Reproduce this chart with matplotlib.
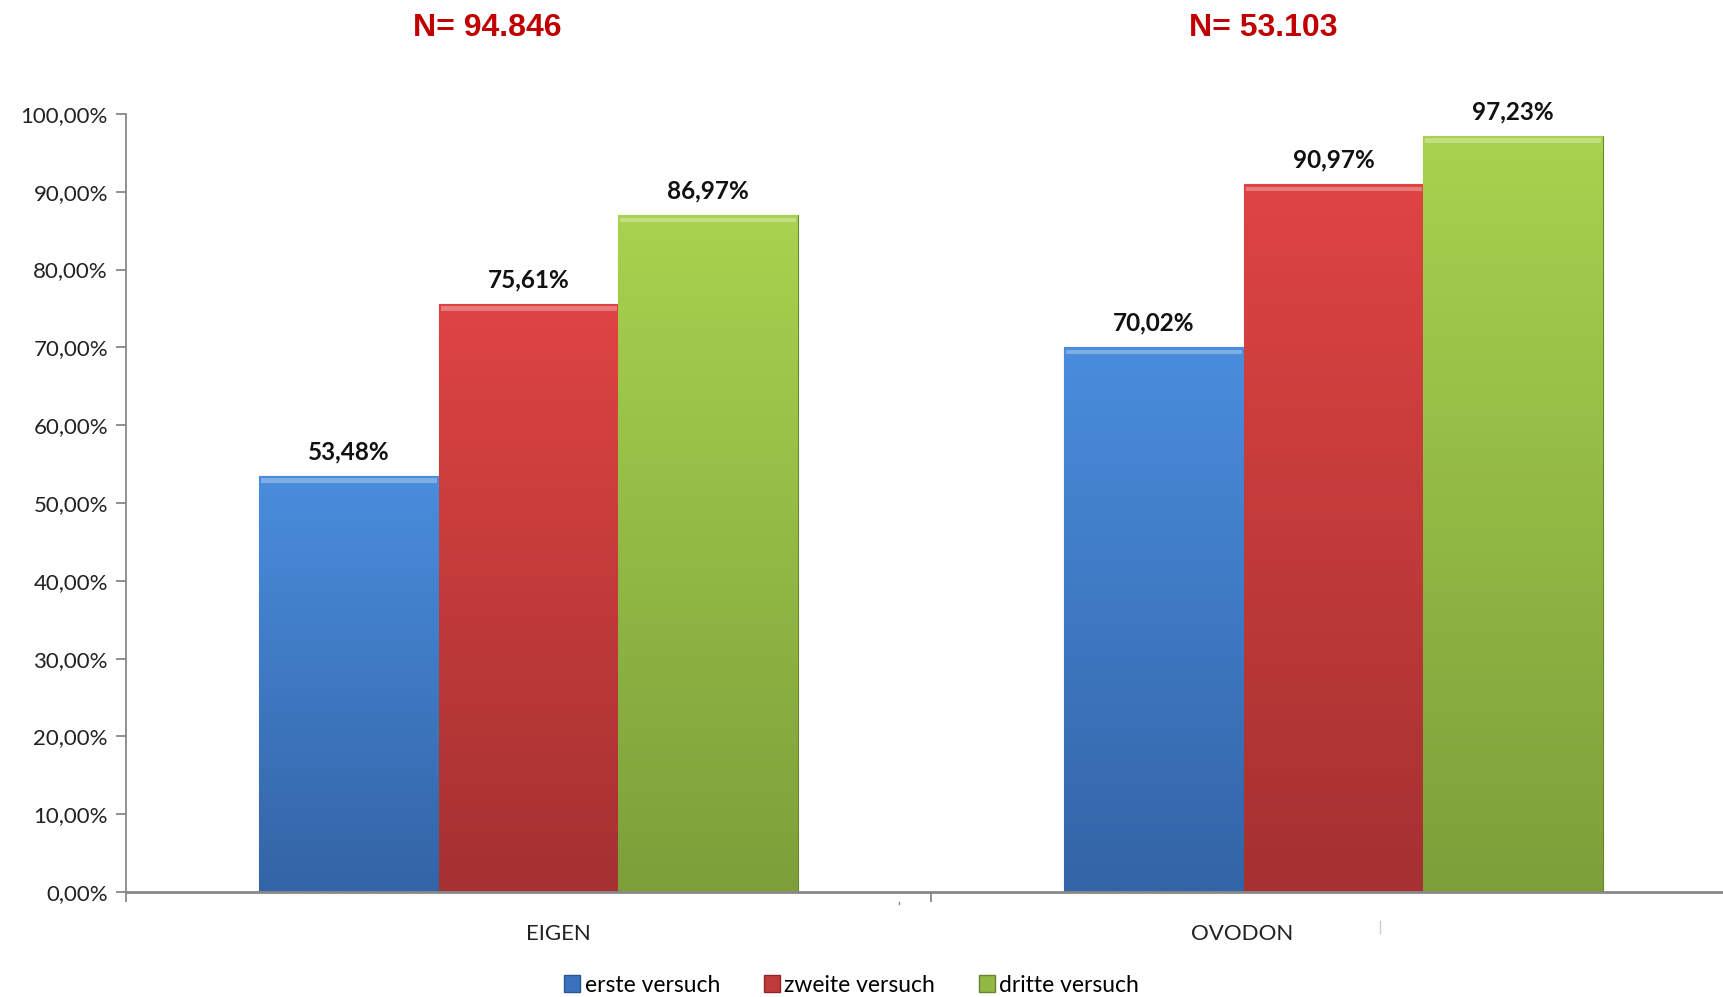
import numpy as np
import matplotlib
matplotlib.use("Agg")
from matplotlib import pyplot as plt
from matplotlib.patches import Patch
from matplotlib.colors import LinearSegmentedColormap

categories = ["EIGEN", "OVODON"]
n_labels = ["N= 94.846", "N= 53.103"]
series = ["erste versuch", "zweite versuch", "dritte versuch"]
erste = [53.48, 70.02]
zweite = [75.61, 90.97]
dritte = [86.97, 97.23]
yticks = [0, 10, 20, 30, 40, 50, 60, 70, 80, 90, 100]

# top / bottom colours for the gradient fill
colors_top = ["#4a8ddd", "#de4443", "#a8d24f"]
colors_bot = ["#3364a6", "#a53131", "#7d9f3a"]
edge_cols = ["#2b5590", "#8a2828", "#66832e"]
legend_cols = ["#3a72bd", "#c03a3a", "#93b846"]

fig = plt.figure(figsize=(17.24, 9.97), dpi=100)
ax = fig.add_axes([0.0731, 0.1053, 0.9269, 0.7804])

x = np.arange(len(categories))
width = 0.223
offsets = [-width, 0, width]

for i, vals in enumerate([erste, zweite, dritte]):
    bars = ax.bar(x + offsets[i], vals, width, color=colors_top[i],
                  edgecolor=edge_cols[i], linewidth=0.8, zorder=2)
    cmap = LinearSegmentedColormap.from_list("g%d" % i, [colors_bot[i], colors_top[i]])
    for b, v in zip(bars, vals):
        x0, w, h = b.get_x(), b.get_width(), b.get_height()
        im = ax.imshow(np.linspace(0, 1, 256).reshape(-1, 1), cmap=cmap, origin="lower",
                       extent=[x0, x0 + w, 0, h], aspect="auto", zorder=2.1)
        im.set_clip_path(b)
        # bevel highlight on top
        ax.bar(x0 + w / 2, 0.6, w * 0.98, bottom=h - 0.9, color="white", alpha=0.3,
               linewidth=0, zorder=2.2)
        ax.annotate(f"{v:.2f}%".replace(".", ","), (x0 + w / 2, h),
                    xytext=(0, 9), textcoords="offset points", ha="center", va="bottom",
                    fontsize=17.5, fontweight="bold", family="Lato", color="#111111")

ax.set_xlim(-0.5, 1.485)
ax.set_ylim(0, 100)
ax.set_yticks(yticks)
ax.set_yticklabels([f"{t:.2f}%".replace(".", ",") for t in yticks],
                   fontsize=16, family="Lato", color="#222222")
ax.set_xticks([-0.5, 0.5])
ax.set_xticklabels([])
ax.tick_params(axis="y", length=7, color="#888888", width=1.3, pad=6)
ax.tick_params(axis="x", length=7, color="#888888", width=1.3)
for s in ["top", "right"]:
    ax.spines[s].set_visible(False)
ax.spines["left"].set_color("#888888")
ax.spines["bottom"].set_color("#888888")
ax.spines["left"].set_linewidth(1.3)
ax.spines["bottom"].set_linewidth(2)
ax.spines["bottom"].set_zorder(3)

# category labels
fig.text(558 / 1724, 0.063, categories[0], ha="center", va="center", fontsize=16,
         family="Lato", color="#222222")
fig.text(1242 / 1724, 0.063, categories[1], ha="center", va="center", fontsize=16,
         family="Lato", color="#222222")

# small stray marks
fig.add_artist(plt.Line2D([899 / 1724, 899 / 1724], [1 - 902 / 997, 1 - 904 / 997],
                          color="#888888", lw=1))
fig.add_artist(plt.Line2D([1380 / 1724, 1380 / 1724], [1 - 921 / 997, 1 - 933 / 997],
                          color="#cccccc", lw=1))

# N titles
fig.text(0.2825, 0.972, n_labels[0], ha="center", va="center", fontsize=23,
         fontweight="bold", family="Liberation Sans", color="#c00000")
fig.text(0.733, 0.972, n_labels[1], ha="center", va="center", fontsize=23,
         fontweight="bold", family="Liberation Sans", color="#c00000")

handles = [Patch(facecolor=legend_cols[i], edgecolor=edge_cols[i]) for i in range(3)]
fig.legend(handles, series, loc="center", bbox_to_anchor=(0.494, 0.012), ncol=3,
           frameon=False, handlelength=0.7, handleheight=0.7, handletextpad=0.2,
           columnspacing=1.9, prop={"family": "Lato", "size": 16.5})

fig.savefig("out.png", dpi=100)
